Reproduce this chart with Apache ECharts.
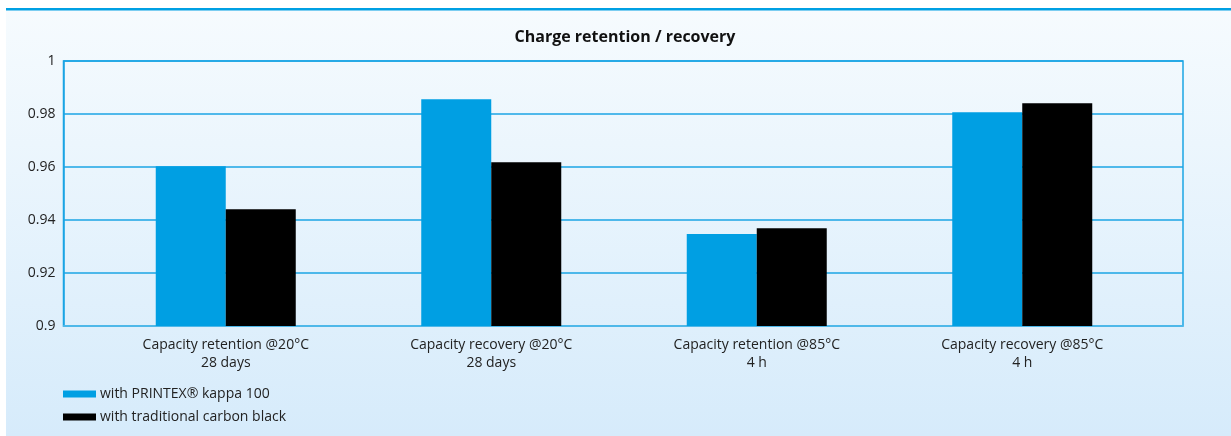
<!DOCTYPE html>
<html>
<head>
<meta charset="utf-8">
<script src="https://cdn.jsdelivr.net/npm/echarts@6/dist/echarts.min.js"></script>
<style>
  html, body { margin: 0; padding: 0; background: #fff; }
  #chart { width: 1231px; height: 436px; }
</style>
</head>
<body>
<div id="chart"></div>
<script>
const categories = [
  'Capacity retention @20°C\n28 days',
  'Capacity recovery @20°C\n28 days',
  'Capacity retention @85°C\n4 h',
  'Capacity recovery @85°C\n4 h'
]
const printexValues = [0.9603, 0.9856, 0.9347, 0.9807]
const carbonValues = [0.9441, 0.9618, 0.9369, 0.9841]
const seriesNames = ['with PRINTEX® kappa 100', 'with traditional carbon black']
const yTicks = [0.9, 0.92, 0.94, 0.96, 0.98, 1]

const chart = echarts.init(document.getElementById('chart'))
const font = "'Open Sans', 'Noto Sans', sans-serif"
const gridBlue = '#1ba5e4'

const option = {
  animation: false,
  textStyle: { fontFamily: font },
  graphic: [
    {
      type: 'rect',
      z: -10,
      shape: { x: 6, y: 10, width: 1225, height: 426 },
      style: {
        fill: new echarts.graphic.LinearGradient(0, 0, 0, 1, [
          { offset: 0, color: '#f6fbfe' },
          { offset: 1, color: '#d6ebfb' }
        ])
      }
    },
    {
      type: 'rect',
      z: -9,
      shape: { x: 6, y: 8, width: 1225, height: 2.5 },
      style: { fill: '#00a0e3' }
    }
  ],
  title: {
    text: 'Charge retention / recovery',
    left: 620,
    textAlign: 'center',
    top: 24,
    textStyle: { fontSize: 16, fontWeight: 'bold', color: '#111', fontFamily: font }
  },
  legend: {
    orient: 'vertical',
    left: 63,
    top: 387,
    padding: 0,
    itemWidth: 33,
    itemHeight: 7,
    itemGap: 9,
    icon: 'rect',
    textStyle: { fontSize: 14, color: '#222', fontFamily: font, padding: [0, 0, 0, -1] },
    data: seriesNames
  },
  grid: [
    {
      left: 63.5, top: 61, width: 1119.5, height: 265,
      show: true, borderColor: gridBlue, borderWidth: 1.5, backgroundColor: 'transparent'
    },
    { left: 93, top: 61, width: 1062, height: 265 }
  ],
  xAxis: [
    {
      type: 'category', gridIndex: 0, data: ['a'],
      axisLine: { lineStyle: { color: '#5cbdea', width: 1.5 } },
      axisTick: { show: false }, axisLabel: { show: false }, splitLine: { show: false }
    },
    {
      type: 'category', gridIndex: 1, data: categories,
      axisLine: { show: false }, axisTick: { show: false },
      axisLabel: { fontSize: 14, color: '#222', lineHeight: 18, margin: 10, fontFamily: font, interval: 0 }
    }
  ],
  yAxis: [
    {
      type: 'value', gridIndex: 0, min: 0.9, max: 1, interval: 0.02,
      axisLine: { show: true, lineStyle: { color: gridBlue, width: 1.5 } },
      axisTick: { show: false },
      axisLabel: {
        fontSize: 14, color: '#222', margin: 8, fontFamily: font,
        formatter: v => {
          const t = yTicks.find(x => Math.abs(x - v) < 1e-9)
          return t === undefined ? '' : String(t)
        }
      },
      splitLine: { lineStyle: { color: gridBlue, width: 1.5 } }
    },
    {
      type: 'value', gridIndex: 1, min: 0.9, max: 1, interval: 0.02,
      axisLine: { show: false }, axisTick: { show: false },
      axisLabel: { show: false }, splitLine: { show: false }
    }
  ],
  series: [
    {
      name: seriesNames[0], type: 'bar', xAxisIndex: 1, yAxisIndex: 1,
      data: printexValues, barWidth: 70, barGap: '0%',
      itemStyle: { color: '#009fe3' }
    },
    {
      name: seriesNames[1], type: 'bar', xAxisIndex: 1, yAxisIndex: 1,
      data: carbonValues, barWidth: 70, barGap: '0%',
      itemStyle: { color: '#000000' }
    }
  ]
}
chart.setOption(option)
</script>
</body>
</html>
